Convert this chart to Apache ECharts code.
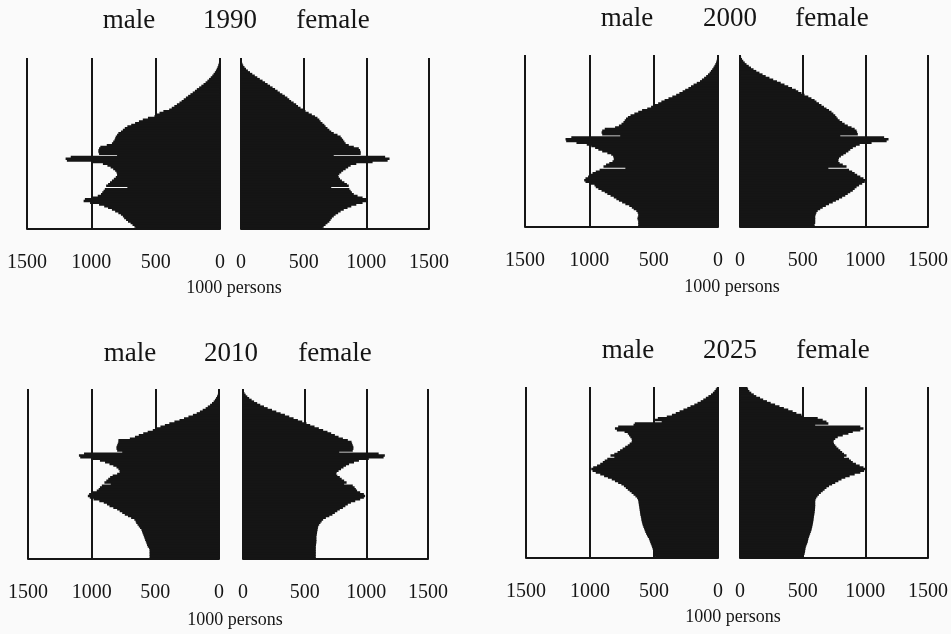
<!DOCTYPE html>
<html>
<head>
<meta charset="utf-8">
<script src="https://cdn.jsdelivr.net/npm/echarts@6/dist/echarts.min.js"></script>
<style>
  html, body { margin: 0; padding: 0; background: #fafafa; }
  #chart { width: 951px; height: 634px; }
</style>
</head>
<body>
<div id="chart"></div>
<script>
// ages 0..100 (100 = 100+)
var ages = [
  0, 1, 2, 3, 4, 5, 6, 7, 8, 9, 10, 11, 12, 13, 14, 15, 16, 17, 18, 19,
  20, 21, 22, 23, 24, 25, 26, 27, 28, 29, 30, 31, 32, 33, 34, 35, 36, 37, 38, 39,
  40, 41, 42, 43, 44, 45, 46, 47, 48, 49, 50, 51, 52, 53, 54, 55, 56, 57, 58, 59,
  60, 61, 62, 63, 64, 65, 66, 67, 68, 69, 70, 71, 72, 73, 74, 75, 76, 77, 78, 79,
  80, 81, 82, 83, 84, 85, 86, 87, 88, 89, 90, 91, 92, 93, 94, 95, 96, 97, 98, 99, 100
];

// population, 1000 persons, by age 0..100
var male1990 = [
  655, 665, 680, 695, 715, 730, 745, 755, 770, 790,
  815, 840, 870, 900, 940, 1010, 1060, 1050, 990, 950,
  925, 915, 905, 895, 720, 885, 870, 855, 840, 825,
  810, 800, 800, 805, 815, 830, 850, 875, 910, 990,
  1190, 1200, 1160, 800, 940, 945, 945, 940, 930, 880,
  840, 830, 820, 815, 810, 800, 790, 770, 755, 740,
  720, 690, 660, 630, 600, 560, 510, 490, 470, 440,
  395, 375, 355, 335, 315, 298, 282, 265, 248, 230,
  212, 195, 180, 162, 145, 128, 112, 98, 85, 72,
  60, 50, 40, 32, 25, 19, 14, 10, 7, 5, 3
];
var female1990 = [
  650, 660, 675, 690, 705, 715, 725, 740, 755, 775,
  795, 820, 850, 880, 920, 970, 1010, 1010, 970, 930,
  900, 885, 875, 865, 720, 860, 845, 825, 805, 790,
  780, 775, 785, 800, 815, 835, 855, 875, 920, 1050,
  1170, 1185, 1150, 740, 955, 955, 950, 940, 900, 860,
  835, 825, 815, 805, 795, 770, 740, 720, 705, 690,
  675, 665, 650, 635, 625, 610, 590, 565, 540, 515,
  495, 475, 455, 440, 420, 400, 385, 370, 350, 330,
  310, 292, 272, 252, 232, 212, 192, 172, 150, 130,
  110, 90, 72, 55, 40, 28, 18, 12, 8, 5, 3
];
var male2000 = [
  620, 620, 620, 620, 625, 625, 620, 620, 625, 635,
  655, 670, 690, 720, 745, 770, 790, 810, 835, 860,
  880, 905, 930, 950, 960, 1000, 1030, 1040, 1030, 1010,
  990, 975, 950, 920, 720, 890, 870, 845, 820, 810,
  810, 815, 830, 860, 900, 930, 955, 985, 1020, 1100,
  1180, 1185, 1140, 760, 900, 905, 900, 880, 800, 770,
  750, 735, 725, 715, 700, 680, 650, 620, 590, 550,
  520, 490, 465, 440, 415, 385, 355, 325, 300, 275,
  255, 230, 210, 190, 165, 140, 125, 108, 92, 78,
  65, 55, 45, 36, 28, 21, 15, 11, 8, 5, 3
];
var female2000 = [
  595, 595, 600, 600, 600, 600, 600, 605, 610, 620,
  640, 660, 685, 710, 740, 765, 790, 815, 840, 860,
  880, 900, 915, 930, 950, 975, 995, 1000, 985, 960,
  935, 915, 895, 870, 705, 850, 820, 795, 785, 785,
  790, 805, 825, 845, 865, 880, 900, 925, 955, 1050,
  1170, 1185, 1150, 800, 940, 935, 930, 915, 890, 860,
  835, 815, 795, 780, 770, 760, 745, 730, 710, 690,
  670, 650, 630, 610, 595, 570, 545, 515, 490, 465,
  445, 415, 385, 355, 325, 295, 265, 235, 205, 180,
  155, 130, 108, 88, 70, 52, 38, 26, 16, 9, 5
];
var male2010 = [
  545, 545, 545, 545, 545, 545, 550, 560, 565, 570,
  575, 580, 585, 590, 595, 600, 605, 610, 620, 630,
  640, 650, 655, 665, 690, 715, 740, 760, 780, 800,
  830, 860, 880, 905, 940, 985, 1015, 1030, 1020, 990,
  960, 945, 935, 920, 850, 900, 885, 870, 855, 835,
  800, 780, 780, 790, 805, 830, 860, 895, 935, 1000,
  1090, 1100, 1060, 760, 800, 805, 805, 800, 795, 790,
  790, 700, 660, 630, 595, 560, 520, 490, 460, 425,
  390, 350, 310, 275, 240, 205, 175, 150, 128, 105,
  88, 70, 55, 42, 32, 23, 16, 10, 6, 4, 2
];
var female2010 = [
  590, 590, 590, 590, 590, 590, 590, 590, 592, 594,
  595, 595, 595, 595, 598, 600, 602, 605, 607, 610,
  618, 628, 638, 650, 672, 700, 725, 745, 765, 785,
  810, 830, 850, 875, 910, 950, 980, 990, 980, 950,
  925, 915, 905, 890, 820, 840, 820, 800, 785, 765,
  755, 760, 775, 795, 815, 835, 860, 900, 940, 1020,
  1140, 1150, 1100, 780, 890, 895, 895, 890, 885, 880,
  850, 810, 775, 745, 715, 685, 650, 615, 580, 545,
  515, 480, 445, 410, 375, 340, 305, 270, 235, 200,
  170, 140, 115, 90, 70, 50, 35, 22, 12, 6, 3
];
var male2025 = [
  490, 495, 500, 503, 506, 510, 515, 520, 525, 530,
  535, 540, 548, 555, 562, 568, 573, 578, 583, 588,
  592, 595, 598, 600, 603, 606, 608, 610, 612, 614,
  616, 618, 620, 622, 625, 632, 645, 660, 675, 690,
  705, 720, 735, 755, 780, 805, 830, 860, 890, 920,
  955, 980, 990, 975, 945, 920, 900, 885, 865, 810,
  840, 810, 785, 765, 745, 725, 705, 690, 675, 672,
  675, 685, 695, 705, 730, 790, 805, 780, 660, 650,
  440, 492, 470, 400, 360, 330, 300, 270, 240, 215,
  185, 160, 135, 115, 95, 75, 55, 40, 28, 18, 10
];
var female2025 = [
  505, 510, 515, 518, 520, 522, 525, 530, 535, 540,
  543, 546, 550, 555, 560, 565, 570, 573, 576, 579,
  582, 584, 586, 588, 590, 592, 594, 596, 598, 599,
  600, 600, 600, 600, 602, 608, 618, 630, 645, 660,
  675, 690, 710, 735, 760, 785, 810, 840, 875, 915,
  960, 990, 1000, 985, 955, 925, 900, 885, 870, 830,
  850, 830, 815, 800, 785, 770, 760, 750, 745, 748,
  760, 780, 820, 865, 900, 960, 985, 960, 600, 705,
  690, 660, 620, 510, 490, 450, 420, 385, 350, 315,
  280, 245, 215, 185, 160, 130, 110, 90, 75, 65, 60
];

var years = ["1990", "2000", "2010", "2025"];

// where each pyramid sits on the page
var layout = [
  { male: male1990, female: female1990, top: 58, bottom: 229, mL: 27, mR: 220, fL: 241, fR: 429,
    title: [129, 230, 333, 21], unit: [234, 288] },
  { male: male2000, female: female2000, top: 55, bottom: 227, mL: 525, mR: 718, fL: 740, fR: 928,
    title: [627, 730, 832, 19], unit: [732, 287] },
  { male: male2010, female: female2010, top: 389, bottom: 559, mL: 28, mR: 219, fL: 243, fR: 428,
    title: [130, 231, 335, 354], unit: [235, 620] },
  { male: male2025, female: female2025, top: 387, bottom: 558, mL: 526, mR: 718, fL: 740, fR: 928,
    title: [628, 730, 833, 351], unit: [733, 617] }
];

var ink = "#151515";
var serif = '"Liberation Serif", "DejaVu Serif", serif';

var grids = [], xAxes = [], yAxes = [], series = [], texts = [];

layout.forEach(function (p, i) {
  var sides = [
    { left: p.mL, right: p.mR, inverse: true, data: p.male },
    { left: p.fL, right: p.fR, inverse: false, data: p.female }
  ];
  sides.forEach(function (s) {
    var k = grids.length;
    grids.push({ left: s.left, width: s.right - s.left, top: p.top, height: p.bottom - p.top });
    xAxes.push({
      gridIndex: k,
      type: "value",
      min: 0,
      max: 1500,
      interval: 500,
      inverse: s.inverse,
      axisLine: { show: true, lineStyle: { color: ink, width: 2 } },
      axisTick: { show: false },
      splitLine: { show: true, lineStyle: { color: ink, width: 2 } },
      axisLabel: {
        margin: 24,
        fontSize: 20,
        fontFamily: serif,
        color: ink,
        formatter: function (v) {
          return String(v);
        }
      }
    });
    yAxes.push({ gridIndex: k, type: "category", data: ages, show: false });
    // bars a bit wider than one age band so neighbours overlap and leave no seams
    series.push({
      type: "bar",
      xAxisIndex: k,
      yAxisIndex: k,
      data: s.data,
      barWidth: 2.5,
      z: 5,
      silent: true,
      itemStyle: { color: ink }
    });
  });

  var words = ["male", years[i], "female"];
  words.forEach(function (w, j) {
    texts.push({
      type: "text",
      x: p.title[j],
      y: p.title[3],
      style: { text: w, font: "27px " + serif, fill: ink, align: "center", verticalAlign: "middle" }
    });
  });
  texts.push({
    type: "text",
    x: p.unit[0],
    y: p.unit[1],
    style: { text: "1000 persons", font: "18px " + serif, fill: ink, align: "center", verticalAlign: "middle" }
  });
});

var option = {
  animation: false,
  backgroundColor: "#fafafa",
  grid: grids,
  xAxis: xAxes,
  yAxis: yAxes,
  series: series,
  graphic: texts
};

var myChart = echarts.init(document.getElementById("chart"));
myChart.setOption(option);
</script>
</body>
</html>
